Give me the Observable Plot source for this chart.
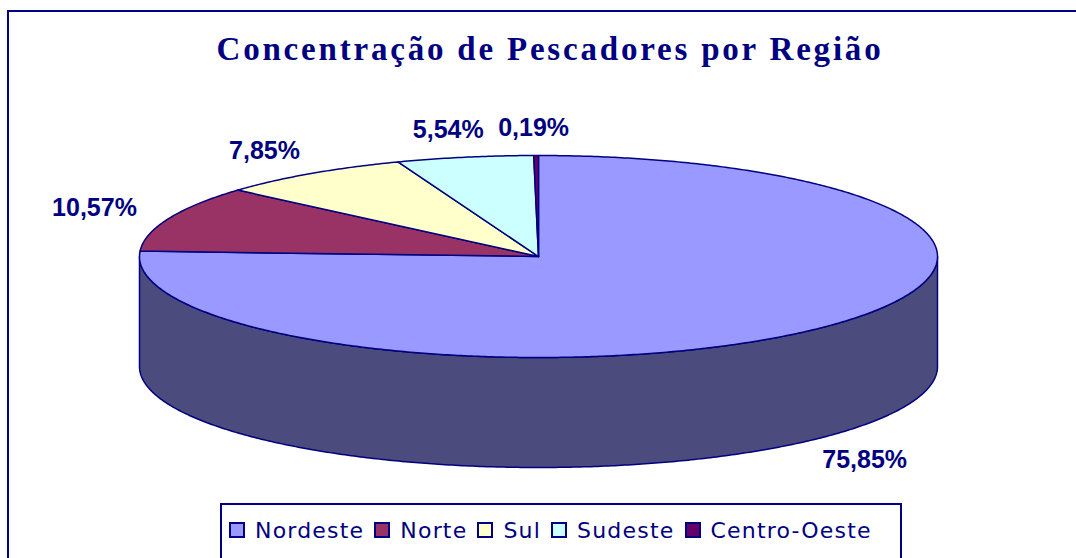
<!DOCTYPE html>
<html><head><meta charset="utf-8">
<script src="https://cdn.jsdelivr.net/npm/d3@7"></script>
<script src="https://cdn.jsdelivr.net/npm/@observablehq/plot@0.6"></script>
<style>
html,body{margin:0;padding:0;background:#fff;}
#wrap{position:relative;width:1076px;height:558px;overflow:hidden;background:#fff;}
#frame{position:absolute;left:7px;top:10px;width:1100px;height:600px;border-top:2px solid #000080;border-left:2px solid #000080;}
#title{position:absolute;left:0;top:33px;width:1100px;text-align:center;font-family:"Liberation Serif","Times New Roman",serif;font-weight:bold;font-size:33px;line-height:33px;letter-spacing:2.8px;color:#000080;white-space:nowrap;}
#chart{position:absolute;left:0;top:0;}
#legend{position:absolute;left:220px;top:503px;width:682px;height:60px;border:2px solid #000080;box-sizing:border-box;background:#fff;}
#legend > div{font-family:"DejaVu Sans",sans-serif !important;font-size:22px !important;color:#000080 !important;letter-spacing:1.2px;margin:0 !important;padding-left:8px;height:50px;min-height:0 !important;display:flex !important;align-items:center;flex-wrap:nowrap !important;}
#legend > div > span{margin-right:11px !important;display:inline-flex;align-items:center;}
#legend > div > span > svg{margin-right:11px !important;overflow:visible;}
#legend rect{stroke:#000080;stroke-width:2px;}
</style>
</head><body>
<div id="wrap">
  <div id="frame"></div>
  <div id="chart"></div>
  <div id="title">Concentração de Pescadores por Região</div>
  <div id="legend"></div>
</div>
<script>
// ---- data ----
const regions = ["Nordeste", "Norte", "Sul", "Sudeste", "Centro-Oeste"];
const shares  = [75.85, 10.57, 7.85, 5.54, 0.19];
const colors  = ["#9999FF", "#993366", "#FFFFCC", "#CCFFFF", "#660066"];

// ---- layout ----
const W = 1076, H = 500;
const cx = 538, cy = 256, rx = 399, ry = 101, depth = 110;
const outline = "#000080";

const total = d3.sum(shares);
let acc = 0;
const slices = regions.map((region, i) => {
  const a0 = acc / total * 2 * Math.PI;
  acc += shares[i];
  const a1 = acc / total * 2 * Math.PI;
  return {region, a0, a1, mid: (a0 + a1) / 2, color: colors[i],
          label: shares[i].toFixed(2).replace(".", ",") + "%"};
});

const pt = (a, dy = 0) => [cx + rx * Math.sin(a), cy - ry * Math.cos(a) + dy];
function arc(a0, a1, dy = 0) {
  const n = Math.max(2, Math.ceil(Math.abs(a1 - a0) / (Math.PI / 360)));
  const out = [];
  for (let k = 0; k <= n; k++) out.push(pt(a0 + (a1 - a0) * k / n, dy));
  return out;
}

// top faces
const topPts = slices.flatMap(s =>
  [[cx, cy], ...arc(s.a0, s.a1)].map(([x, y]) => ({region: s.region, x, y})));

// visible side walls (front half of the cylinder)
const sideMarks = slices.flatMap(s => {
  const lo = Math.max(s.a0, Math.PI / 2), hi = Math.min(s.a1, 3 * Math.PI / 2);
  if (lo >= hi) return [];
  const pts = [...arc(lo, hi), ...arc(hi, lo, depth)].map(([x, y]) => ({x, y}));
  return [Plot.line(pts, {x: "x", y: "y", curve: "linear-closed",
    fill: d3.color(s.color).darker(2).formatHex(), stroke: outline, strokeWidth: 1.5})];
});

// labels, placed outside each slice at its middle angle
const labelPts = slices.map(s => ({
  label: s.label,
  x: cx + (rx + 78) * Math.sin(s.mid) - 2,
  y: cy - (ry + 28) * Math.cos(s.mid) + (Math.cos(s.mid) < 0 ? depth : 0)
}));

const colorScale = {domain: regions, range: colors};

const chart = Plot.plot({
  width: W, height: H,
  marginTop: 0, marginRight: 0, marginBottom: 0, marginLeft: 0,
  x: {domain: [0, W], range: [0, W], axis: null},
  y: {domain: [0, H], range: [0, H], axis: null},
  color: colorScale,
  style: {background: "transparent", overflow: "visible"},
  marks: [
    ...sideMarks,
    Plot.line(topPts, {x: "x", y: "y", z: "region", fill: "region",
      stroke: outline, strokeWidth: 1.5, curve: "linear-closed"}),
    Plot.text(labelPts, {x: "x", y: "y", text: "label", fill: "#000080",
      fontSize: 25, fontWeight: "bold", fontFamily: "Liberation Sans, Arial, sans-serif"})
  ]
});
document.getElementById("chart").appendChild(chart);

const legend = Plot.legend({color: colorScale, legend: "swatches", swatchSize: 14, className: "lg"});
document.getElementById("legend").appendChild(legend);
</script>
</body></html>
